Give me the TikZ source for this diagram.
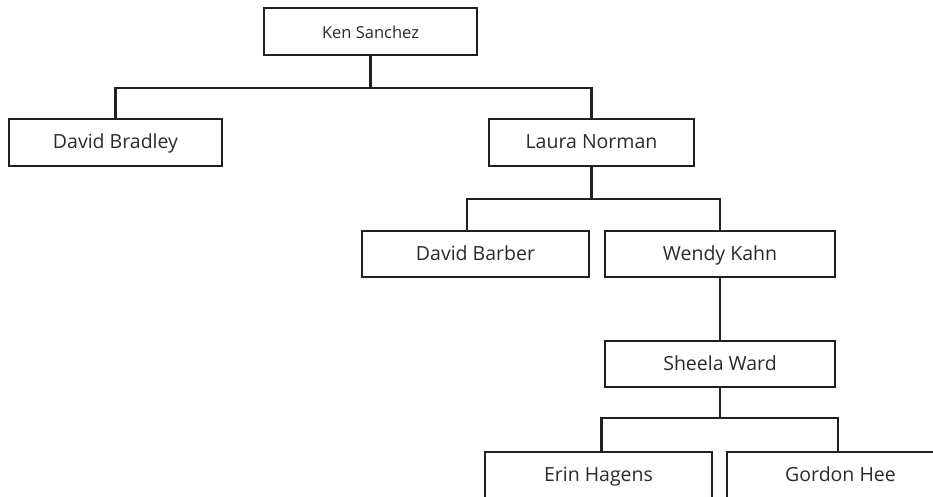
\documentclass[tikz,border=0pt]{standalone}
\usepackage{fontspec}
\setmainfont{Open Sans}
\definecolor{linec}{HTML}{231F20}
\definecolor{textc}{HTML}{2B2B2B}
\tikzset{
  person/.style={draw=linec, line width=2.4pt, fill=white, rectangle, inner sep=0pt,
    minimum height=46pt, text=textc, text height=15.5pt, text depth=2.5pt,
    font=\fontsize{19.5}{22}\selectfont},
  conn/.style={draw=linec, line width=2.4pt},
}
\begin{document}
\begin{tikzpicture}[x=1pt,y=-1pt]
\useasboundingbox (0,0) rectangle (933,497);
\clip (0,0) rectangle (933,497);
\fill[white] (0,0) rectangle (933,497);

\node[person, minimum width=213pt, minimum height=47pt, text height=14pt, text depth=0.5pt, font=\fontsize{16.5}{20}\selectfont] (ken) at (370.5,31.5) {Ken Sanchez};
\node[person, minimum width=213pt, minimum height=47pt] (bradley) at (115.5,142.5) {David Bradley};
\node[person, minimum width=205pt, minimum height=47pt] (laura) at (591.5,142.5) {Laura Norman};
\node[person, minimum width=227pt] (barber) at (475.5,254) {David Barber};
\node[person, minimum width=230pt] (wendy) at (720,254) {Wendy Kahn};
\node[person, minimum width=230pt] (sheela) at (720,364) {Sheela Ward};
\node[person, minimum width=227pt] (erin) at (598.5,475) {Erin Hagens};
\node[person, minimum width=227pt] (gordon) at (840.5,475) {Gordon Hee};

\coordinate (bus1) at (0,88);
\coordinate (bus2) at (0,199);
\coordinate (bus3) at (0,418);
\coordinate (bt) at ([xshift=-8.5pt]barber.north);
\coordinate (et) at ([xshift=3pt]erin.north);
\coordinate (gt) at ([xshift=-2.5pt]gordon.north);

\draw[conn] (ken.south) -- (ken.south |- bus1);
\draw[conn] (bradley.north) -- (bradley.north |- bus1) -- (laura.north |- bus1) -- (laura.north);

\draw[conn] (laura.south) -- (laura.south |- bus2);
\draw[conn] (bt) -- (bt |- bus2) -- (wendy.north |- bus2) -- (wendy.north);

\draw[conn] (wendy.south) -- (sheela.north);

\draw[conn] (sheela.south) -- (sheela.south |- bus3);
\draw[conn] (et) -- (et |- bus3) -- (gt |- bus3) -- (gt);
\end{tikzpicture}
\end{document}
